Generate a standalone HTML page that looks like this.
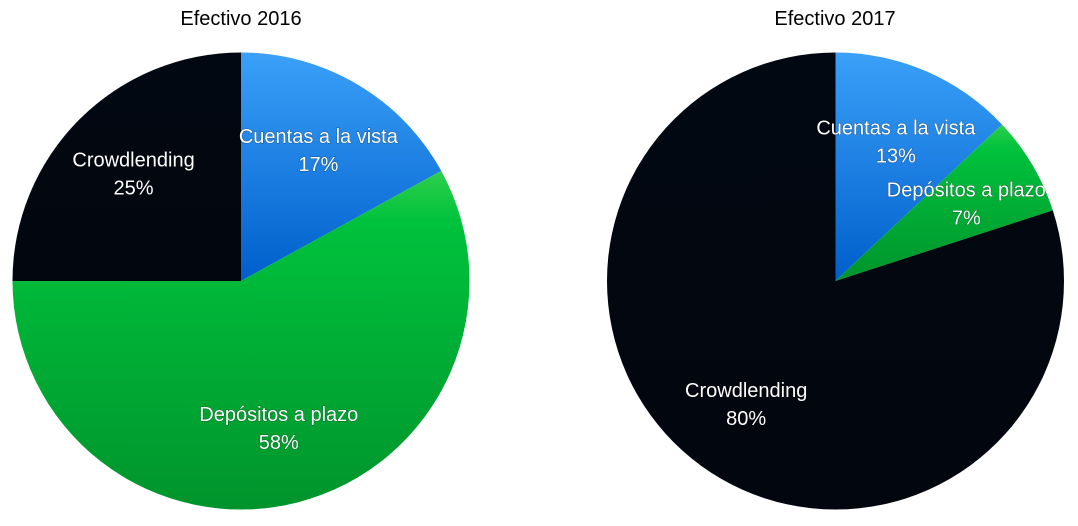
<!DOCTYPE html>
<html><head><meta charset="utf-8">
<style>
html,body{margin:0;padding:0;background:#fff;}
svg{display:block;font-family:"Liberation Sans",sans-serif;}
.lbl{fill:#fff;font-size:20px;text-anchor:middle;paint-order:stroke;stroke:rgba(0,0,0,0.35);stroke-width:1px;}
.title{fill:#000;font-size:20px;text-anchor:middle;}
</style></head>
<body>
<svg id="chart" width="1078" height="526" viewBox="0 0 1078 526">
<defs>
<linearGradient id="gBlue" x1="0" y1="0" x2="0" y2="1"><stop offset="0" stop-color="#3aa0f8"/><stop offset="1" stop-color="#005fcc"/></linearGradient>
<linearGradient id="gGreen" x1="0" y1="0" x2="0" y2="1"><stop offset="0" stop-color="#2fcf4c"/><stop offset="0.15" stop-color="#00c23c"/><stop offset="1" stop-color="#00942c"/></linearGradient>
<linearGradient id="gBlack" x1="0" y1="0" x2="0" y2="1"><stop offset="0" stop-color="#020812"/><stop offset="1" stop-color="#02060e"/></linearGradient>
</defs>
<text class="title" x="241" y="25">Efectivo 2016</text>
<text class="title" x="835" y="25">Efectivo 2017</text>
</svg>
<script>
const categories = ["Cuentas a la vista", "Depósitos a plazo", "Crowdlending"];
const values2016 = [17, 58, 25];
const values2017 = [13, 7, 80];
const fills = ["url(#gBlue)", "url(#gGreen)", "url(#gBlack)"];
const NS = "http://www.w3.org/2000/svg";
const svg = document.getElementById("chart");
function drawPie(vals, cx, cy, R, year) {
  const total = vals.reduce((a, b) => a + b, 0);
  let acc = 0;
  const g = document.createElementNS(NS, "g");
  
  
  svg.appendChild(g);
  const labels = [];
  vals.forEach((v, i) => {
    const a0 = acc / total * 2 * Math.PI;
    acc += v;
    const a1 = acc / total * 2 * Math.PI;
    const x0 = cx + R * Math.sin(a0), y0 = cy - R * Math.cos(a0);
    const x1 = cx + R * Math.sin(a1), y1 = cy - R * Math.cos(a1);
    const large = (a1 - a0) > Math.PI ? 1 : 0;
    const p = document.createElementNS(NS, "path");
    p.setAttribute("d", `M${cx},${cy} L${x0},${y0} A${R},${R} 0 ${large} 1 ${x1},${y1} Z`);
    p.setAttribute("fill", fills[i]);
    
    
    g.appendChild(p);
    const am = (a0 + a1) / 2, lr = R * 0.665;
    labels.push([cx + lr * Math.sin(am), cy - lr * Math.cos(am), categories[i], Math.round(v / total * 100) + "%", i]);
  });
  labels.forEach(l => {
    const t = document.createElementNS(NS, "text");
    t.setAttribute("class", "lbl");
    t.setAttribute("x", l[0]);
    t.setAttribute("y", l[1] - 7);
    t.textContent = l[2];
    
    
    svg.appendChild(t);
    const t2 = document.createElementNS(NS, "text");
    t2.setAttribute("class", "lbl");
    t2.setAttribute("x", l[0]);
    t2.setAttribute("y", l[1] + 21);
    t2.textContent = l[3];
    
    
    svg.appendChild(t2);
  });
}
drawPie(values2016, 241, 281, 228.5, "2016");
drawPie(values2017, 835.5, 281, 228.5, "2017");
</script>
</body></html>
